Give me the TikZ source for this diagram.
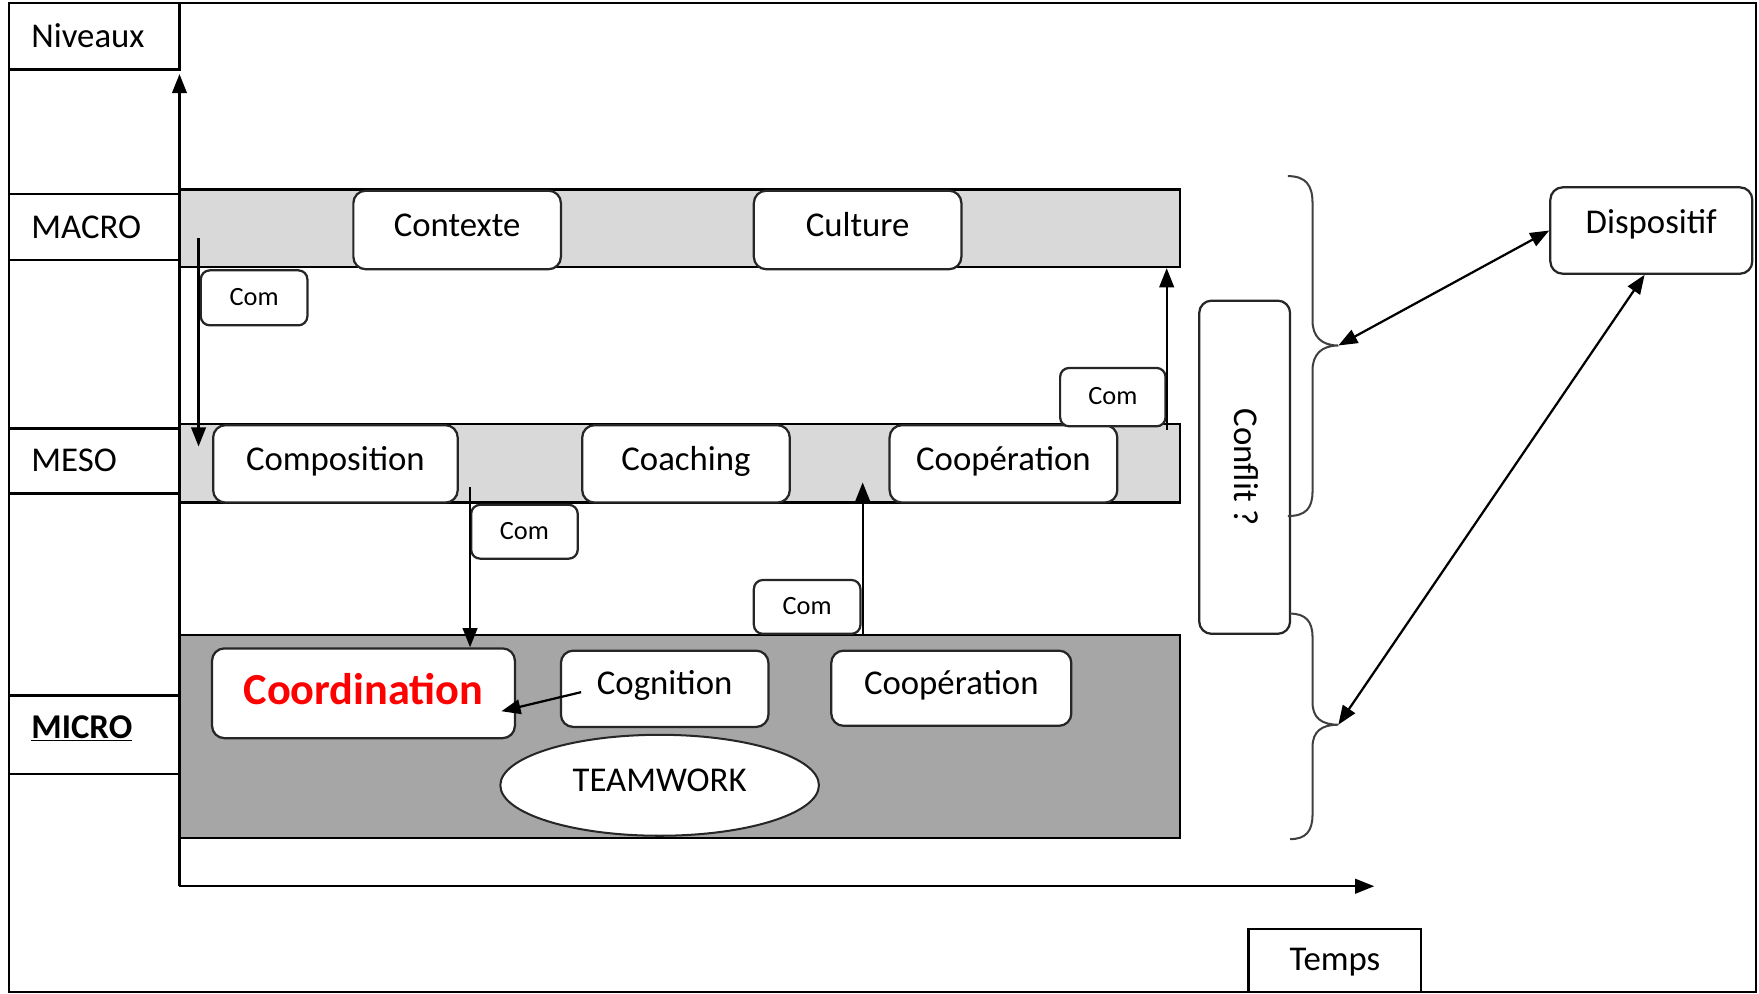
\documentclass[tikz,border=0pt]{standalone}
\usepackage{fontspec}
\setmainfont{Carlito}
\usetikzlibrary{arrows.meta,shapes.geometric}
\definecolor{lightband}{HTML}{D9D9D9}
\definecolor{darkband}{HTML}{A6A6A6}
\definecolor{coordred}{HTML}{FF0000}
\begin{document}
\begin{tikzpicture}[x=1pt,y=-1pt,
  every node/.style={font=\fontsize{31}{37}\selectfont, inner sep=0pt},
  frame/.style={draw=black, line width=2pt},
  band/.style={draw=black, line width=2.2pt, minimum width=892pt},
  rbox/.style={draw=black!85, line width=2pt, rounded corners=11pt, fill=white, text height=21pt, text depth=10pt},
  combox/.style={rbox, rounded corners=8pt, font=\fontsize{23.5}{28}\selectfont, text height=16pt, text depth=2pt},
  lvlbox/.style={draw=black, line width=2pt, minimum width=152pt, text width=112pt, inner xsep=20pt, align=left, text height=21pt, text depth=1.6pt},
  arr/.style={line width=2pt, -{Triangle[length=17pt,width=13pt]}},
  darr/.style={line width=2pt, {Triangle[length=17pt,width=13pt]}-{Triangle[length=17pt,width=13pt]}},
  brace/.style={draw=black!75, line width=1.8pt}
]
\useasboundingbox (0,0) rectangle (1568,886);
\draw[frame] (8,3) rectangle (1565,884);

% bands
\node[band, fill=lightband, minimum height=69pt] (macroband) at (606,203.5) {};
\node[band, fill=lightband, minimum height=70pt] (mesoband) at (606,413) {};
\node[band, fill=darkband, minimum height=181pt] (microband) at (606,656.5) {};

% level boxes
\node[lvlbox, minimum height=59pt] (niveaux) at (84,32.5) {Niveaux};
\node[lvlbox, minimum height=59pt] (macro) at (84,202.5) {MACRO};
\node[lvlbox, minimum height=58pt] (meso) at (84,411) {MESO};
\node[lvlbox, minimum height=70pt, text depth=15pt] (micro) at (84,655) {\textbf{\underline{MICRO}}};

% axes
\coordinate (origin) at (160,790);
\coordinate (ytop) at (160,66);
\coordinate (xend) at (1225,790);
\draw[arr] (origin) -- (ytop);
\draw[arr] (origin) -- (xend);
\node[draw=black, line width=2pt, minimum width=154pt, minimum height=56pt, text height=21pt, text depth=3.6pt] (temps) at (1190,856) {Temps};

% macro nodes
\node[rbox, minimum width=185pt, minimum height=70pt] (contexte) at (407.5,205) {Contexte};
\node[rbox, minimum width=185pt, minimum height=70pt] (culture) at (764.5,205) {Culture};

% meso nodes
\node[rbox, minimum width=218pt, minimum height=69pt] (composition) at (299,413.5) {Composition};
\node[rbox, minimum width=185pt, minimum height=69pt] (coaching) at (611.5,413.5) {Coaching};
\node[rbox, minimum width=203pt, minimum height=69pt] (coopmeso) at (894.5,413.5) {Coopération};

% micro nodes
\node[rbox, minimum width=270pt, minimum height=80pt, font=\fontsize{39.5}{46}\selectfont\bfseries, text=coordred, text height=27pt, text depth=7.6pt] (coord) at (324,618) {Coordination};
\node[rbox, minimum width=185pt, minimum height=68pt] (cognition) at (592.5,614) {Cognition};
\node[rbox, minimum width=214pt, minimum height=67pt] (coopmicro) at (848,613.5) {Coopération};
\node[ellipse, draw=black!85, line width=1.8pt, fill=white, minimum width=284pt, minimum height=90pt, text height=21pt, text depth=10pt] (teamwork) at (588,700) {TEAMWORK};

% com boxes
\node[combox, minimum width=95pt, minimum height=49pt] (com1) at (226.5,265.5) {Com};
\node[combox, minimum width=94pt, minimum height=52pt] (com2) at (992,354) {Com};
\node[combox, minimum width=95pt, minimum height=48pt] (com3) at (467.5,474) {Com};
\node[combox, minimum width=95pt, minimum height=48pt] (com4) at (719.5,541) {Com};

% com arrows
\coordinate (a1s) at (177,212);
\coordinate (a1e) at (177,398);
\draw[arr] (a1s) -- (a1e);
\coordinate (a2s) at (1040,383);
\draw[arr] (a2s) -- (a2s |- macroband.south);
\coordinate (a3s) at (419,434);
\draw[arr] (a3s) -- (a3s |- coord.north);
\coordinate (a4s) at (769,566);
\coordinate (a4e) at (769,430);
\draw[arr] (a4s) -- (a4e);
\coordinate (a5s) at (518,617);
\coordinate (a5e) at (447,634);
\draw[arr] (a5s) -- (a5e);

% conflit and dispositif
\node[rbox, rotate=-90, minimum width=297pt, minimum height=81pt, text height=21pt, text depth=3pt] (conflit) at (1109.5,416.5) {Conflit ?};
\node[rbox, minimum width=180pt, minimum height=77pt, text depth=16.6pt] (disp) at (1472,205.5) {Dispositif};

% braces
\coordinate (tip1) at (1193,308);
\coordinate (tip2) at (1193,646);
\draw[brace] (1148,157) .. controls (1164,157) and (1170,165) .. (1170,181) -- (1170,286)
  .. controls (1170,300) and (1178,308) .. (tip1)
  .. controls (1178,308) and (1170,316) .. (1170,330) -- (1170,438)
  .. controls (1170,453) and (1164,460) .. (1148,460);
\draw[brace] (1150,547) .. controls (1164,547) and (1170,554) .. (1170,568) -- (1170,626)
  .. controls (1170,640) and (1178,646) .. (tip2)
  .. controls (1178,646) and (1170,652) .. (1170,666) -- (1170,726)
  .. controls (1170,741) and (1164,748) .. (1150,748);

% double arrows
\draw[darr] (tip1) -- (disp.west);
\draw[darr] (tip2) -- ([xshift=-6pt]disp.south);
\end{tikzpicture}
\end{document}
